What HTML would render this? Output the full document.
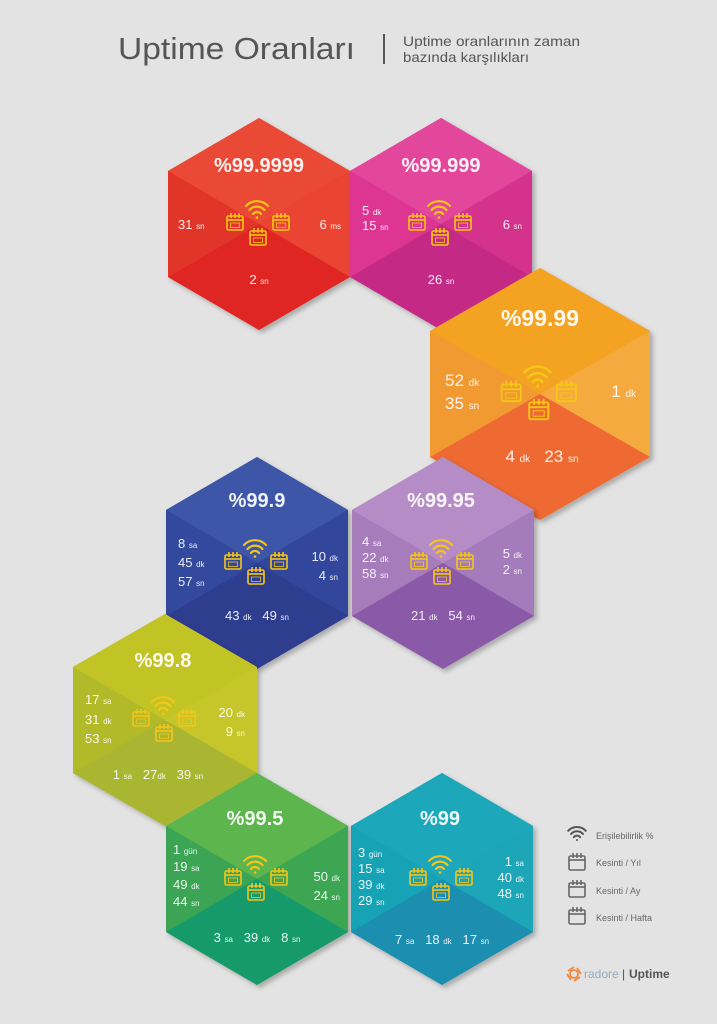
<!DOCTYPE html>
<html><head><meta charset="utf-8"><style>
html,body{margin:0;padding:0;background:#e3e3e3;}
svg{display:block}
text{white-space:pre}
.t{font-family:"Liberation Sans",sans-serif;fill:#fff;}
.ti{font-size:20px;font-weight:bold;text-anchor:middle;fill:#fff;opacity:.93}
.v{font-size:13px;fill:#fff;opacity:.9}
.u{font-size:8px}
</style></head><body>
<svg width="717" height="1024" viewBox="0 0 717 1024" xmlns="http://www.w3.org/2000/svg" xml:space="preserve">
<defs>
<g id="cal"><rect x="-8" y="-6" width="16" height="14" rx="1.5" fill="none" stroke="#f5c518" stroke-width="1.6"/><line x1="-8" y1="-2" x2="8" y2="-2" stroke="#f5c518" stroke-width="1.6"/><line x1="-4" y1="-9" x2="-4" y2="-4" stroke="#f5c518" stroke-width="1.6"/><line x1="0" y1="-9" x2="0" y2="-4" stroke="#f5c518" stroke-width="1.6"/><line x1="4" y1="-9" x2="4" y2="-4" stroke="#f5c518" stroke-width="1.6"/><rect x="-4.5" y="1" width="9" height="4.5" fill="none" stroke="#f5c518" stroke-width="0.8"/></g>
<g id="wifi" fill="none" stroke="#f5c518" stroke-width="2.2" stroke-linecap="round"><path d="M-11,-4 A15,15 0 0 1 11,-4"/><path d="M-7.5,0 A10,10 0 0 1 7.5,0"/><path d="M-4,4 A5,5 0 0 1 4,4"/><circle cx="0" cy="7.5" r="1.3" fill="#f5c518" stroke="none"/></g>
<g id="icons"><use href="#wifi" x="-2" y="-14"/><use href="#cal" x="-24" y="-2"/><use href="#cal" x="22" y="-2"/><use href="#cal" x="-1" y="13"/></g>
<g id="calg"><rect x="-8" y="-6" width="16" height="14" rx="1.5" fill="none" stroke="#666" stroke-width="1.6"/><line x1="-8" y1="-2" x2="8" y2="-2" stroke="#666" stroke-width="1.6"/><line x1="-4" y1="-9" x2="-4" y2="-4" stroke="#666" stroke-width="1.6"/><line x1="0" y1="-9" x2="0" y2="-4" stroke="#666" stroke-width="1.6"/><line x1="4" y1="-9" x2="4" y2="-4" stroke="#666" stroke-width="1.6"/></g>
<filter id="sh" x="-10%" y="-10%" width="130%" height="130%"><feDropShadow dx="3" dy="3" stdDeviation="2.5" flood-color="#000" flood-opacity="0.25"/></filter>
</defs>

<text x="118" y="59" font-family="Liberation Sans,sans-serif" font-size="31" fill="#555" textLength="237" lengthAdjust="spacingAndGlyphs">Uptime Oranları</text>
<rect x="383" y="34" width="2" height="30" fill="#555"/>
<text x="403" y="46" font-family="Liberation Sans,sans-serif" font-size="14" fill="#555" textLength="177" lengthAdjust="spacingAndGlyphs">Uptime oranlarının zaman</text>
<text x="403" y="62" font-family="Liberation Sans,sans-serif" font-size="14" fill="#555" textLength="126" lengthAdjust="spacingAndGlyphs">bazında karşılıkları</text>

<g filter="url(#sh)">
<polygon points="259,118 350,171 350,277 259,330 168,277 168,171" fill="#e63a2b"/>
<polygon points="259,118 350,171 259,224 168,171" fill="#ea4a34"/>
<polygon points="168,171 259,224 168,277" fill="#e2362a"/>
<polygon points="350,171 259,224 350,277" fill="#e94432"/>
<polygon points="168,277 259,224 350,277 259,330" fill="#e02820"/>
</g>
<g filter="url(#sh)">
<polygon points="441,118 532,171 532,277 441,330 350,277 350,171" fill="#d8358f"/>
<polygon points="441,118 532,171 441,224 350,171" fill="#e2469c"/>
<polygon points="350,171 441,224 350,277" fill="#de3692"/>
<polygon points="532,171 441,224 532,277" fill="#d4328c"/>
<polygon points="350,277 441,224 532,277 441,330" fill="#c42a85"/>
</g>
<g filter="url(#sh)">
<polygon points="540,268 650,331 650,457 540,520 430,457 430,331" fill="#f29a2a"/>
<polygon points="540,268 650,331 540,394 430,331" fill="#f4a222"/>
<polygon points="430,331 540,394 430,457" fill="#f29a30"/>
<polygon points="650,331 540,394 650,457" fill="#f5aa40"/>
<polygon points="430,457 540,394 650,457 540,520" fill="#ee6a32"/>
</g>
<g filter="url(#sh)">
<polygon points="257,457 348,510 348,616 257,669 166,616 166,510" fill="#34489c"/>
<polygon points="257,457 348,510 257,563 166,510" fill="#3c56a8"/>
<polygon points="166,510 257,563 166,616" fill="#33499e"/>
<polygon points="348,510 257,563 348,616" fill="#33479c"/>
<polygon points="166,616 257,563 348,616 257,669" fill="#2e3d8e"/>
</g>
<g filter="url(#sh)">
<polygon points="443,457 534,510 534,616 443,669 352,616 352,510" fill="#a47ab9"/>
<polygon points="443,457 534,510 443,563 352,510" fill="#b68cc6"/>
<polygon points="352,510 443,563 352,616" fill="#a67cbb"/>
<polygon points="534,510 443,563 534,616" fill="#a57bbb"/>
<polygon points="352,616 443,563 534,616 443,669" fill="#8a5aa8"/>
</g>
<g filter="url(#sh)">
<polygon points="165,614 257,667 257,773 165,826 73,773 73,667" fill="#b9bd2a"/>
<polygon points="165,614 257,667 165,720 73,667" fill="#c2c428"/>
<polygon points="73,667 165,720 73,773" fill="#b3ba2c"/>
<polygon points="257,667 165,720 257,773" fill="#c6c62a"/>
<polygon points="73,773 165,720 257,773 165,826" fill="#aab630"/>
</g>
<g filter="url(#sh)">
<polygon points="257,773 348,826 348,932 257,985 166,932 166,826" fill="#3ea652"/>
<polygon points="257,773 348,826 257,879 166,826" fill="#5cb54e"/>
<polygon points="166,826 257,879 166,932" fill="#3aa454"/>
<polygon points="348,826 257,879 348,932" fill="#3ea652"/>
<polygon points="166,932 257,879 348,932 257,985" fill="#159a6c"/>
</g>
<g filter="url(#sh)">
<polygon points="442,773 533,826 533,932 442,985 351,932 351,826" fill="#17a2b6"/>
<polygon points="442,773 533,826 442,879 351,826" fill="#1aa8ba"/>
<polygon points="351,826 442,879 351,932" fill="#17a3b6"/>
<polygon points="533,826 442,879 533,932" fill="#1aa6b8"/>
<polygon points="351,932 442,879 533,932 442,985" fill="#1a8eb0"/>
</g>

<use href="#icons" x="259" y="224"/>
<use href="#icons" x="441" y="224"/>
<g transform="translate(540,394) scale(1.2)"><use href="#icons"/></g>
<use href="#icons" x="257" y="563"/>
<use href="#icons" x="443" y="563"/>
<use href="#icons" x="165" y="720"/>
<use href="#icons" x="257" y="879"/>
<use href="#icons" x="442" y="879"/>

<g class="t">
<text class="ti" x="259" y="172">%99.9999</text>
<text class="ti" x="441" y="172">%99.999</text>
<text class="ti" x="540" y="326" style="font-size:23px">%99.99</text>
<text class="ti" x="257" y="507">%99.9</text>
<text class="ti" x="441" y="507">%99.95</text>
<text class="ti" x="163" y="667">%99.8</text>
<text class="ti" x="255" y="825">%99.5</text>
<text class="ti" x="440" y="825">%99</text>

<text class="v" x="178" y="229">31 <tspan class="u">sn</tspan></text>
<text class="v" x="341" y="229" text-anchor="end">6 <tspan class="u">ms</tspan></text>
<text class="v" x="259" y="284" text-anchor="middle">2 <tspan class="u">sn</tspan></text>
<text class="v" x="362" y="215">5 <tspan class="u">dk</tspan></text>
<text class="v" x="362" y="230">15 <tspan class="u">sn</tspan></text>
<text class="v" x="522" y="229" text-anchor="end">6 <tspan class="u">sn</tspan></text>
<text class="v" x="441" y="284" text-anchor="middle">26 <tspan class="u">sn</tspan></text>
<text class="v" x="445" y="386" style="font-size:17px">52 <tspan class="u" style="font-size:10px">dk</tspan></text>
<text class="v" x="445" y="409" style="font-size:17px">35 <tspan class="u" style="font-size:10px">sn</tspan></text>
<text class="v" x="636" y="397" text-anchor="end" style="font-size:17px">1 <tspan class="u" style="font-size:10px">dk</tspan></text>
<text class="v" x="542" y="462" text-anchor="middle" style="font-size:17px">4 <tspan class="u" style="font-size:10px">dk</tspan>   23 <tspan class="u" style="font-size:10px">sn</tspan></text>
<text class="v" x="178" y="548">8 <tspan class="u">sa</tspan></text>
<text class="v" x="178" y="567">45 <tspan class="u">dk</tspan></text>
<text class="v" x="178" y="586">57 <tspan class="u">sn</tspan></text>
<text class="v" x="338" y="561" text-anchor="end">10 <tspan class="u">dk</tspan></text>
<text class="v" x="338" y="580" text-anchor="end">4 <tspan class="u">sn</tspan></text>
<text class="v" x="257" y="620" text-anchor="middle">43 <tspan class="u">dk</tspan>   49 <tspan class="u">sn</tspan></text>
<text class="v" x="362" y="546">4 <tspan class="u">sa</tspan></text>
<text class="v" x="362" y="562">22 <tspan class="u">dk</tspan></text>
<text class="v" x="362" y="578">58 <tspan class="u">sn</tspan></text>
<text class="v" x="522" y="558" text-anchor="end">5 <tspan class="u">dk</tspan></text>
<text class="v" x="522" y="574" text-anchor="end">2 <tspan class="u">sn</tspan></text>
<text class="v" x="443" y="620" text-anchor="middle">21 <tspan class="u">dk</tspan>   54 <tspan class="u">sn</tspan></text>
<text class="v" x="85" y="704">17 <tspan class="u">sa</tspan></text>
<text class="v" x="85" y="724">31 <tspan class="u">dk</tspan></text>
<text class="v" x="85" y="743">53 <tspan class="u">sn</tspan></text>
<text class="v" x="245" y="717" text-anchor="end">20 <tspan class="u">dk</tspan></text>
<text class="v" x="245" y="736" text-anchor="end">9 <tspan class="u">sn</tspan></text>
<text class="v" x="158" y="779" text-anchor="middle">1 <tspan class="u">sa</tspan>   27<tspan class="u">dk</tspan>   39 <tspan class="u">sn</tspan></text>
<text class="v" x="173" y="854">1 <tspan class="u">gün</tspan></text>
<text class="v" x="173" y="871">19 <tspan class="u">sa</tspan></text>
<text class="v" x="173" y="889">49 <tspan class="u">dk</tspan></text>
<text class="v" x="173" y="906">44 <tspan class="u">sn</tspan></text>
<text class="v" x="340" y="881" text-anchor="end">50 <tspan class="u">dk</tspan></text>
<text class="v" x="340" y="900" text-anchor="end">24 <tspan class="u">sn</tspan></text>
<text class="v" x="257" y="942" text-anchor="middle">3 <tspan class="u">sa</tspan>   39 <tspan class="u">dk</tspan>   8 <tspan class="u">sn</tspan></text>
<text class="v" x="358" y="857">3 <tspan class="u">gün</tspan></text>
<text class="v" x="358" y="873">15 <tspan class="u">sa</tspan></text>
<text class="v" x="358" y="889">39 <tspan class="u">dk</tspan></text>
<text class="v" x="358" y="905">29 <tspan class="u">sn</tspan></text>
<text class="v" x="524" y="866" text-anchor="end">1 <tspan class="u">sa</tspan></text>
<text class="v" x="524" y="882" text-anchor="end">40 <tspan class="u">dk</tspan></text>
<text class="v" x="524" y="898" text-anchor="end">48 <tspan class="u">sn</tspan></text>
<text class="v" x="442" y="944" text-anchor="middle">7 <tspan class="u">sa</tspan>   18 <tspan class="u">dk</tspan>   17 <tspan class="u">sn</tspan></text>
</g>

<g transform="translate(577,834) scale(0.8)" fill="none" stroke="#555" stroke-width="2.5" stroke-linecap="round"><path d="M-11,-4 A15,15 0 0 1 11,-4"/><path d="M-7.5,0 A10,10 0 0 1 7.5,0"/><path d="M-4,4 A5,5 0 0 1 4,4"/><circle cx="0" cy="7.5" r="1.3" fill="#555" stroke="none"/></g>
<use href="#calg" x="577" y="862"/>
<use href="#calg" x="577" y="889"/>
<use href="#calg" x="577" y="916"/>
<g font-family="Liberation Sans,sans-serif" font-size="9" fill="#666">
<text x="596" y="839">Erişilebilirlik %</text>
<text x="596" y="866">Kesinti / Yıl</text>
<text x="596" y="894">Kesinti / Ay</text>
<text x="596" y="921">Kesinti / Hafta</text>
</g>
<g transform="translate(574,974)" fill="none" stroke="#f08a3c" stroke-width="1.8"><circle cx="0" cy="0" r="4"/><path d="M-6,-3 L0,-7 M6,3 L0,7 M3,-6 L7,0 M-3,6 L-7,0"/></g>
<text x="584" y="978" font-family="Liberation Sans,sans-serif" font-size="12" fill="#9ab">radore</text>
<text x="622" y="978" font-family="Liberation Sans,sans-serif" font-size="12" fill="#555">|</text>
<text x="629" y="978" font-family="Liberation Sans,sans-serif" font-size="12" font-weight="bold" fill="#555">Uptime</text>
</svg>
</body></html>
